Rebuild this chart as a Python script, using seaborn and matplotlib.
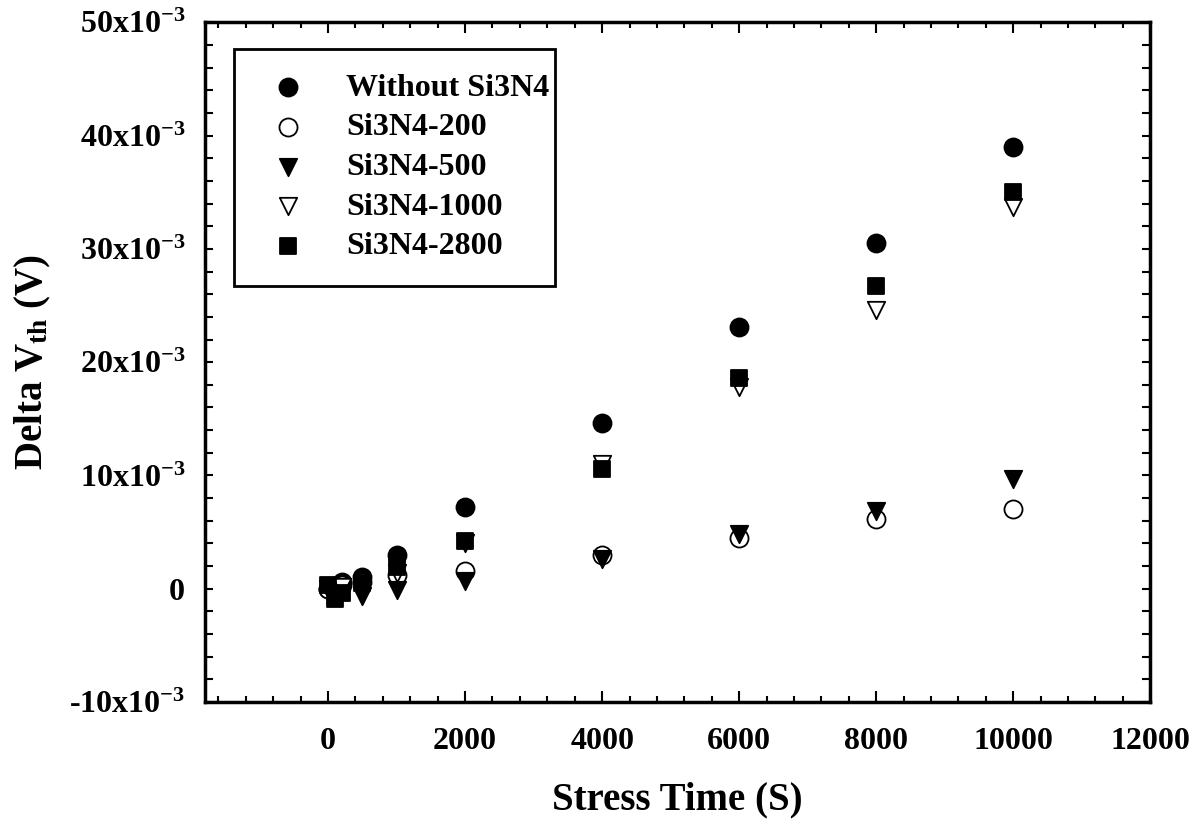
import numpy as np
import pandas as pd
import matplotlib
matplotlib.use("Agg")
import matplotlib.pyplot as plt
import seaborn as sns
from matplotlib.ticker import MultipleLocator, FuncFormatter
from matplotlib.patches import Rectangle

sns.set_theme(style="ticks")
plt.rcParams['font.family'] = ['Liberation Serif', 'DejaVu Serif']
plt.rcParams['font.weight'] = 'bold'
plt.rcParams['text.color'] = 'black'
plt.rcParams['axes.labelcolor'] = 'black'
plt.rcParams['xtick.color'] = 'black'
plt.rcParams['ytick.color'] = 'black'
plt.rcParams['axes.unicode_minus'] = False
plt.rcParams['mathtext.fontset'] = 'custom'
plt.rcParams['mathtext.rm'] = 'Liberation Serif:bold'
plt.rcParams['mathtext.it'] = 'Liberation Serif:bold'
plt.rcParams['mathtext.bf'] = 'Liberation Serif:bold'

# ---- data ----
stress_time = [0, 100, 200, 500, 1000, 2000, 4000, 6000, 8000, 10000]
series_names = ["Without Si3N4", "Si3N4-200", "Si3N4-500", "Si3N4-1000", "Si3N4-2800"]
without_si3n4 = [0.0, 0.0002, 0.0006, 0.0010, 0.0030, 0.0072, 0.0146, 0.0231, 0.0305, 0.0390]
si3n4_200 = [0.0, 0.0001, 0.0003, 0.0006, 0.0012, 0.0016, 0.0030, 0.0045, 0.0062, 0.0070]
si3n4_500 = [0.0, -0.0004, -0.0003, -0.0006, -0.0001, 0.0007, 0.0026, 0.0048, 0.0069, 0.0097]
si3n4_1000 = [0.0, -0.0002, 0.0002, 0.0004, 0.0014, 0.0040, 0.0110, 0.0178, 0.0246, 0.0337]
si3n4_2800 = [0.0003, -0.0009, -0.0004, 0.0005, 0.0019, 0.0042, 0.0106, 0.0186, 0.0267, 0.0350]
all_values = [without_si3n4, si3n4_200, si3n4_500, si3n4_1000, si3n4_2800]

x_ticks = [0, 2000, 4000, 6000, 8000, 10000, 12000]
y_ticks = [-0.01, 0.0, 0.01, 0.02, 0.03, 0.04, 0.05]

# ---- styles ----
markers = ["o", "o", "v", "v", "s"]
faces = ["black", "white", "black", "white", "black"]
sizes = [13**2, 13**2, 12.5**2, 12.5**2, 11.5**2]

fig = plt.figure(figsize=(11.97, 8.25), dpi=100)
ax = fig.add_axes([0.171, 0.149, 0.79, 0.824])

for name, vals, m, fc, s in zip(series_names, all_values, markers, faces, sizes):
    df = pd.DataFrame({"t": stress_time, "v": vals})
    sns.scatterplot(data=df, x="t", y="v", ax=ax, marker=m, s=s, color=fc,
                    edgecolor="black", linewidth=1.3, label=name, zorder=3)

ax.set_xlim(-1800, 12000)
ax.set_ylim(-0.01, 0.05)
ax.set_xticks(x_ticks)
ax.set_yticks(y_ticks)
ax.xaxis.set_minor_locator(MultipleLocator(400))
ax.yaxis.set_minor_locator(MultipleLocator(0.002))

def yfmt(v, pos):
    k = int(round(v * 1000))
    if k == 0:
        return "0"
    return f"{k}x10$^{{-3}}$"

ax.yaxis.set_major_formatter(FuncFormatter(yfmt))
ax.xaxis.set_major_formatter(FuncFormatter(lambda v, p: f"{int(v)}"))

ax.tick_params(axis="both", which="both", direction="in", top=True, right=True,
               width=1.5, colors="black")
ax.tick_params(axis="x", which="major", length=8, pad=18, labelsize=23)
ax.tick_params(axis="x", which="minor", length=4)
ax.tick_params(axis="y", which="major", length=6, pad=14, labelsize=23)
ax.tick_params(axis="y", which="minor", length=6)
for lab in ax.get_xticklabels() + ax.get_yticklabels():
    lab.set_fontweight("bold")
    lab.set_color("black")

for sp in ax.spines.values():
    sp.set_linewidth(2.5)
    sp.set_color("black")

ax.set_xlabel("Stress Time (S)", fontsize=28, fontweight="bold", labelpad=18, color="black")
ax.set_ylabel("Delta V$_{\\mathrm{th}}$ (V)", fontsize=28, fontweight="bold", labelpad=12, color="black")

leg = ax.legend(loc="upper left", bbox_to_anchor=(0.031, 0.96), borderaxespad=0,
                prop={"family": "Liberation Serif", "weight": "bold", "size": 23},
                frameon=False,
                borderpad=0.75, labelspacing=0.32, handlelength=1.9, handletextpad=0.85)
for t in leg.get_texts():
    t.set_color("black")

# legend frame box (layout only)
ax.add_patch(Rectangle((0.031, 0.612), 0.3395, 0.3487, transform=ax.transAxes,
                       fill=False, edgecolor="black", linewidth=2.0, zorder=5,
                       clip_on=False))

fig.savefig("out.png", dpi=100)
